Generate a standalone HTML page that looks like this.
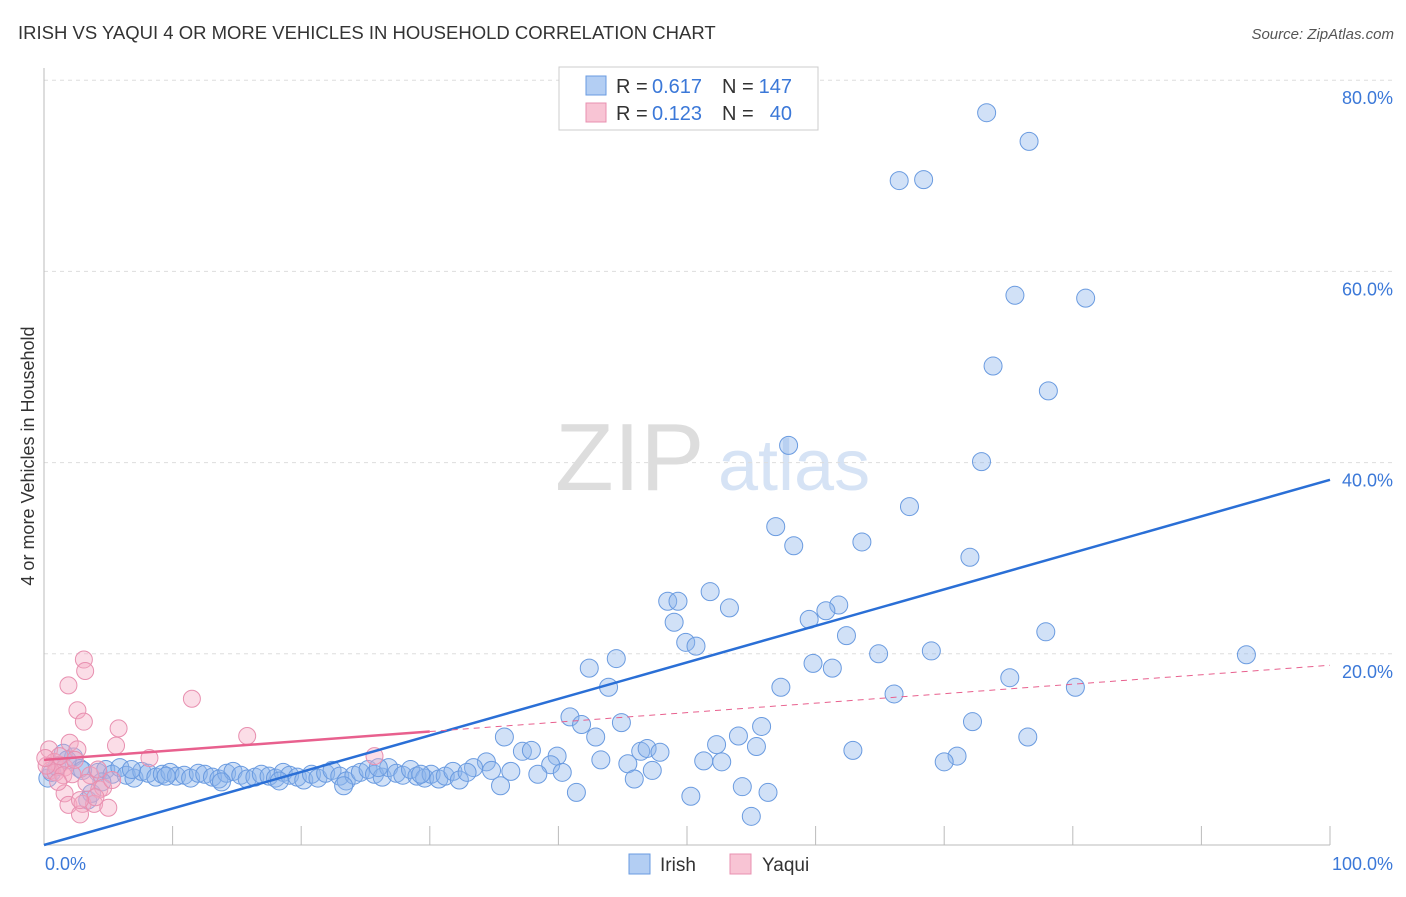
<!DOCTYPE html>
<html><head><meta charset="utf-8"><style>
body{margin:0;background:#fff;font-family:"Liberation Sans",sans-serif}
svg text{font-family:"Liberation Sans",sans-serif}
</style></head><body>
<svg width="1406" height="892" viewBox="0 0 1406 892">
<text x="18" y="39" font-size="18.5" fill="#333">IRISH VS YAQUI 4 OR MORE VEHICLES IN HOUSEHOLD CORRELATION CHART</text>
<text x="1394" y="39" font-size="15" fill="#555" text-anchor="end" font-style="italic">Source: ZipAtlas.com</text>
<text x="555" y="490" font-size="96" fill="#ddd" font-family="Liberation Serif">ZIP</text>
<text x="718" y="490" font-size="72" fill="#d6e3f5">atlas</text>
<g id="grid"></g><g id="axes"></g><g id="pts"></g><g id="lines"></g>
<text transform="translate(34,456) rotate(-90)" font-size="18" fill="#333" text-anchor="middle">4 or more Vehicles in Household</text>
<g>
<rect x="559" y="67" width="259" height="63" fill="#fff" stroke="#ccc"/>
<rect x="586" y="76" width="20" height="19" fill="#b3cef3" stroke="#6a9be0"/>
<rect x="586" y="103" width="20" height="19" fill="#f8c4d4" stroke="#e890b0"/>
<text x="616" y="93" font-size="20" fill="#333">R =</text>
<text x="652" y="93" font-size="20" fill="#3b78d8">0.617</text>
<text x="722" y="93" font-size="20" fill="#333">N =</text>
<text x="792" y="93" font-size="20" fill="#3b78d8" text-anchor="end">147</text>
<text x="616" y="120" font-size="20" fill="#333">R =</text>
<text x="652" y="120" font-size="20" fill="#3b78d8">0.123</text>
<text x="722" y="120" font-size="20" fill="#333">N =</text>
<text x="792" y="120" font-size="20" fill="#3b78d8" text-anchor="end">40</text>
</g>
<g>
<rect x="629" y="854" width="21" height="20" fill="#b3cef3" stroke="#6a9be0"/>
<text x="660" y="871" font-size="19" fill="#333">Irish</text>
<rect x="730" y="854" width="21" height="20" fill="#f8c4d4" stroke="#e890b0"/>
<text x="762" y="871" font-size="19" fill="#333">Yaqui</text>
</g>
</svg>
<script>
const yTicks=[20,40,60,80];
const yTickLabels=["20.0%","40.0%","60.0%","80.0%"];
const xTickLabels=["0.0%","100.0%"];
const irishX=[73.3,76.6,66.5,68.4,75.5,81.0,73.8,78.1,57.9,72.9,67.3,56.9,63.6,58.3,72.0,51.8,48.5,49.3,53.3,61.8,60.8,59.5,49.0,62.4,49.9,50.7,77.9,69.0,64.9,93.5,44.5,42.4,59.8,61.3,75.1,43.9,57.3,80.2,66.1,40.9,41.8,44.9,55.8,72.2,35.8,42.9,54.0,76.5,52.3,55.4,62.9,37.2,37.9,46.4,46.9,47.9,39.9,43.3,51.3,52.7,71.0,70.0,45.4,47.3,39.4,34.4,33.4,34.8,36.3,38.4,40.3,45.9,35.5,41.4,50.3,54.3,56.3,55.0,
0.3,0.6,1.0,1.5,2.3,2.8,3.4,3.7,4.2,4.8,5.3,5.9,6.4,7.0,7.6,8.1,8.7,9.2,9.8,10.3,10.9,11.4,12.0,12.5,13.1,13.6,14.2,14.7,15.3,15.8,16.4,16.9,17.5,18.0,18.6,19.1,19.7,20.2,20.8,21.3,21.9,22.4,23.0,23.5,24.1,24.6,25.2,25.7,26.3,26.8,27.4,27.9,28.5,29.0,29.6,30.1,30.7,31.2,31.8,32.3,32.9,1.8,3.0,4.5,6.8,9.5,13.8,18.3,23.3,26.0,29.3];
const irishY=[76.6,73.6,69.5,69.6,57.5,57.2,50.1,47.5,41.8,40.1,35.4,33.3,31.7,31.3,30.1,26.5,25.5,25.5,24.8,25.1,24.5,23.6,23.3,21.9,21.2,20.8,22.3,20.3,20.0,19.9,19.5,18.5,19.0,18.5,17.5,16.5,16.5,16.5,15.8,13.4,12.6,12.8,12.4,12.9,11.3,11.3,11.4,11.3,10.5,10.3,9.9,9.8,9.9,9.8,10.1,9.7,9.3,8.9,8.8,8.7,9.3,8.7,8.5,7.8,8.4,8.7,8.1,7.8,7.7,7.4,7.6,6.9,6.2,5.5,5.1,6.1,5.5,3.0,
7.0,7.6,8.2,9.6,9.2,8.0,4.7,5.4,7.6,7.9,7.4,8.1,7.3,7.0,7.7,7.5,7.1,7.4,7.6,7.2,7.3,7.0,7.5,7.4,7.1,6.9,7.5,7.7,7.3,6.9,7.1,7.4,7.2,7.0,7.6,7.3,7.1,6.8,7.4,7.0,7.5,7.8,7.2,6.7,7.3,7.6,7.9,7.4,7.1,8.1,7.5,7.3,7.9,7.2,7.0,7.4,6.9,7.2,7.7,6.8,7.6,8.9,7.8,6.6,7.9,7.2,6.6,6.7,6.2,8.1,7.4];
const yaquiX=[3.1,3.2,1.9,2.6,3.1,11.5,5.8,15.8,2.0,2.6,0.4,5.6,8.2,25.7,0.8,1.2,1.6,0.5,0.9,1.5,2.2,0.2,3.6,4.2,3.3,1.6,4.3,4.6,1.9,3.0,3.9,5.0,2.8,4.0,1.1,2.4,1.2,0.1,2.8,5.3];
const yaquiY=[19.4,18.2,16.7,14.1,12.9,15.3,12.2,11.4,10.7,10.0,10.0,10.4,9.1,9.3,8.7,8.4,8.1,7.8,7.6,7.3,7.4,8.3,7.3,7.9,6.5,5.4,5.8,6.0,4.2,4.3,4.3,3.9,3.2,5.0,6.6,8.9,9.3,9.1,4.7,6.8];
const irishTrend=[0,38.2];
const yaquiTrend=[8.9,18.8];
const X0=44,X1=1330,Y0=845,YS=9.56;
const sx=v=>X0+(X1-X0)*v/100, sy=v=>Y0-v*YS;
const NS="http://www.w3.org/2000/svg";
function mk(t,a,p){const e=document.createElementNS(NS,t);for(const k in a)e.setAttribute(k,a[k]);document.getElementById(p).appendChild(e);return e;}
yTicks.forEach((t,i)=>{
 const g=mk('line',{x1:X0,x2:1394,y1:sy(t),y2:sy(t),stroke:'#ddd','stroke-dasharray':'4,4'},'grid');
 
 
 const l=mk('text',{x:1393,y:sy(t)+24,'font-size':18,fill:'#3b78d8','text-anchor':'end'},'axes');
 l.textContent=yTickLabels[i];
 
 
});
const ax=mk('line',{x1:X0,x2:X0,y1:68,y2:Y0,stroke:'#bbb'},'axes');


const bx=mk('line',{x1:X0,x2:X1,y1:Y0,y2:Y0,stroke:'#bbb'},'axes');


for(let i=1;i<=10;i++){
 const t=mk('line',{x1:sx(i*10),x2:sx(i*10),y1:826,y2:Y0,stroke:'#bbb'},'axes');
 
 
}
[[0,'start',45],[100,'end',1393]].forEach((d,i)=>{
 const l=mk('text',{x:d[2],y:870,'font-size':18,fill:'#3b78d8','text-anchor':d[1]},'axes');
 l.textContent=xTickLabels[i];
 
 
});
irishX.forEach((x,i)=>{
 const c=mk('circle',{cx:sx(x),cy:sy(irishY[i]),r:9,fill:'rgba(140,180,235,0.4)',stroke:'#6a9be0','stroke-width':1},'pts');
 
 
});
yaquiX.forEach((x,i)=>{
 const c=mk('circle',{cx:sx(x),cy:sy(yaquiY[i]),r:8.5,fill:'rgba(245,170,195,0.4)',stroke:'#e890b0','stroke-width':1},'pts');
 
 
});
const it=mk('line',{x1:sx(0),y1:sy(irishTrend[0]),x2:sx(100),y2:sy(irishTrend[1]),stroke:'#2a6fd6','stroke-width':2.5},'lines');


const ym=yaquiTrend[0]+(yaquiTrend[1]-yaquiTrend[0])*0.3;
const yt=mk('line',{x1:sx(0),y1:sy(yaquiTrend[0]),x2:sx(30),y2:sy(ym),stroke:'#e8608e','stroke-width':2.5},'lines');


const yd=mk('line',{x1:sx(30),y1:sy(ym),x2:sx(100),y2:sy(yaquiTrend[1]),stroke:'#e8608e','stroke-width':1,'stroke-dasharray':'6,5'},'lines');


</script>
</body></html>
